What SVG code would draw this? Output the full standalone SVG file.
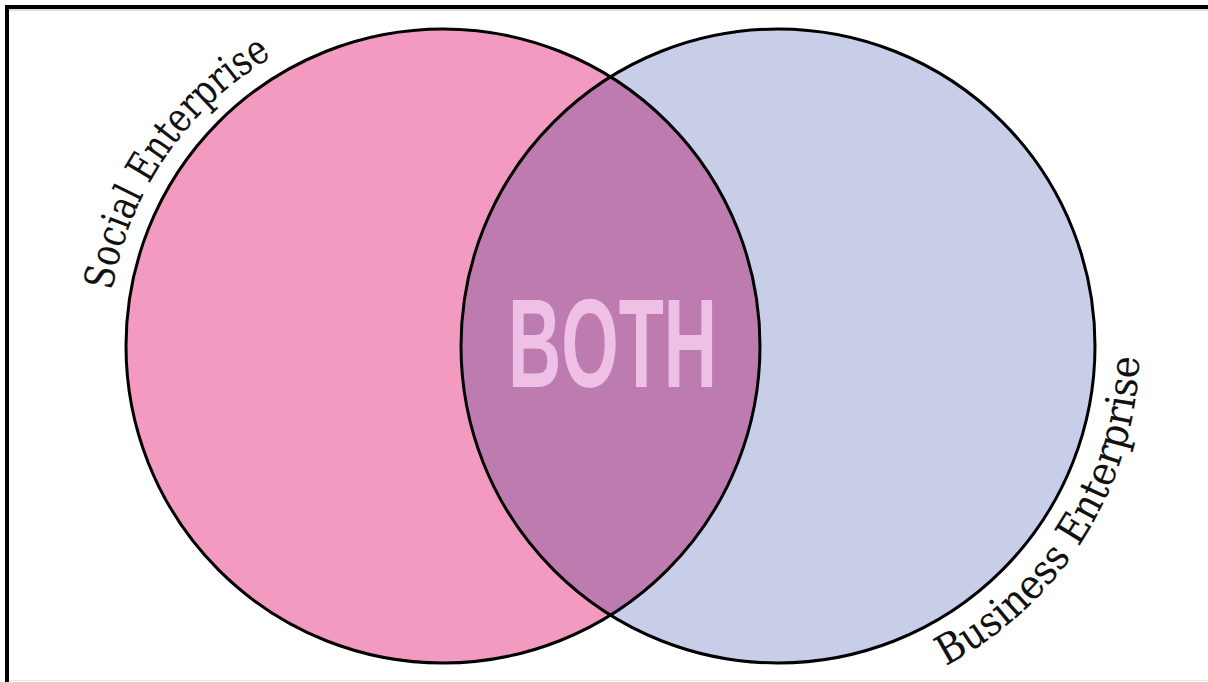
<svg xmlns="http://www.w3.org/2000/svg" width="1208" height="682" viewBox="0 0 1208 682">
<style>
.ring{fill:none;stroke:#000;stroke-width:3}
.lbl{font-family:"DejaVu Serif","Liberation Serif",serif;font-size:41px;fill:#111}
.both{font-family:"Liberation Sans",Arial,sans-serif;font-weight:bold;font-size:127px;fill:#EEC0E6}
</style>
<defs>
<clipPath id="clipL"><circle cx="443" cy="346" r="317"/></clipPath>
<path id="arcS" d="M112.1,290.6 A336,336 0 0 1 385.2,15.1"/>
<path id="arcB" d="M945.8,665.9 A361,361 0 0 0 1091.1,165.5"/>
</defs>
<rect x="0" y="0" width="1208" height="682" fill="#fff"/>
<g id="border">
<line x1="7" y1="7" x2="1208" y2="7" stroke="#000" stroke-width="4"/>
<line x1="7" y1="5" x2="7" y2="682" stroke="#000" stroke-width="4"/>
<line x1="9" y1="10" x2="1208" y2="10" stroke="#bbb" stroke-width="1"/>
<line x1="9" y1="680.5" x2="1208" y2="680.5" stroke="#e6e6e6" stroke-width="1"/>
</g>
<g id="social">
<circle cx="443" cy="346" r="317" fill="#F29AC0"/>
</g>
<g id="business">
<circle cx="778" cy="346" r="317" fill="#C8CEE8"/>
</g>
<g id="overlap">
<circle cx="778" cy="346" r="317" fill="#BE7BB0" clip-path="url(#clipL)"/>
</g>
<g id="outlines">
<circle class="ring" cx="443" cy="346" r="317"/>
<circle class="ring" cx="778" cy="346" r="317"/>
</g>
<g id="both-label">
<text class="both" x="508" y="387" textLength="209" lengthAdjust="spacingAndGlyphs">BOTH</text>
</g>
<g id="social-label">
<text class="lbl"><textPath href="#arcS" textLength="292" lengthAdjust="spacingAndGlyphs">Social Enterprise</textPath></text>
</g>
<g id="business-label">
<text class="lbl"><textPath href="#arcB" textLength="382" lengthAdjust="spacingAndGlyphs">Business Enterprise</textPath></text>
</g>
</svg>
